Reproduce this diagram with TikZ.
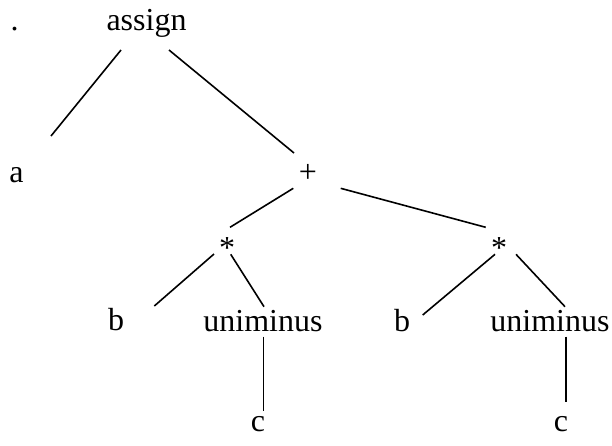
\documentclass[tikz,border=0pt]{standalone}
\usepackage{fontspec}
\setmainfont{Liberation Serif}
\usetikzlibrary{calc}
\begin{document}
\begin{tikzpicture}[x=1pt,y=-1pt,
  lbl/.style={anchor=base,inner sep=0pt,font=\fontsize{32}{38}\selectfont},
  edge/.style={line width=1.6pt,line cap=butt}]
\useasboundingbox (0,0) rectangle (612,445);
\node[lbl] (dot) at (14.7,30) {.};
\node[lbl] (assign) at (146.5,30) {assign};
\node[lbl] (a) at (16.5,182) {a};
\node[lbl] (plus) at (308,182) {+};
\node[lbl] (starL) at (227,258) {*};
\node[lbl] (starR) at (499,258) {*};
\node[lbl] (bL) at (116,330) {b};
\node[lbl] (uL) at (263,331.5) {uniminus};
\node[lbl] (bM) at (402,331.5) {b};
\node[lbl] (uR) at (550,331.5) {uniminus};
\node[lbl] (cL) at (258,431.5) {c};
\node[lbl] (cR) at (561,431.5) {c};
\draw[edge] ($(assign.base)+(-25.5,20)$) -- ($(a.base)+(34.5,-46)$);
\draw[edge] ($(assign.base)+(22.5,20)$) -- ($(plus.base)+(-14,-29)$);
\draw[edge] ($(plus.base)+(-14.7,6.3)$) -- ($(starL.base)+(3,-30.7)$);
\draw[edge] ($(plus.base)+(32.7,6.3)$) -- ($(starR.base)+(-13.3,-30.7)$);
\draw[edge] ($(starL.base)+(-13,-4)$) -- ($(bL.base)+(38.3,-24)$);
\draw[edge] ($(starL.base)+(3.7,-3.7)$) -- ($(uL.base)+(1,-24.8)$);
\draw[edge] ($(starR.base)+(-4,-3.7)$) -- ($(bM.base)+(20.7,-16.5)$);
\draw[edge] ($(starR.base)+(17,-3.7)$) -- ($(uR.base)+(15,-24.8)$);
\draw[edge] ($(uL.base)+(0.3,5.2)$) -- ($(cL.base)+(5.3,-20.8)$);
\draw[edge] ($(uR.base)+(15.7,5.2)$) -- ($(cR.base)+(4.7,-29.8)$);
\end{tikzpicture}
\end{document}
